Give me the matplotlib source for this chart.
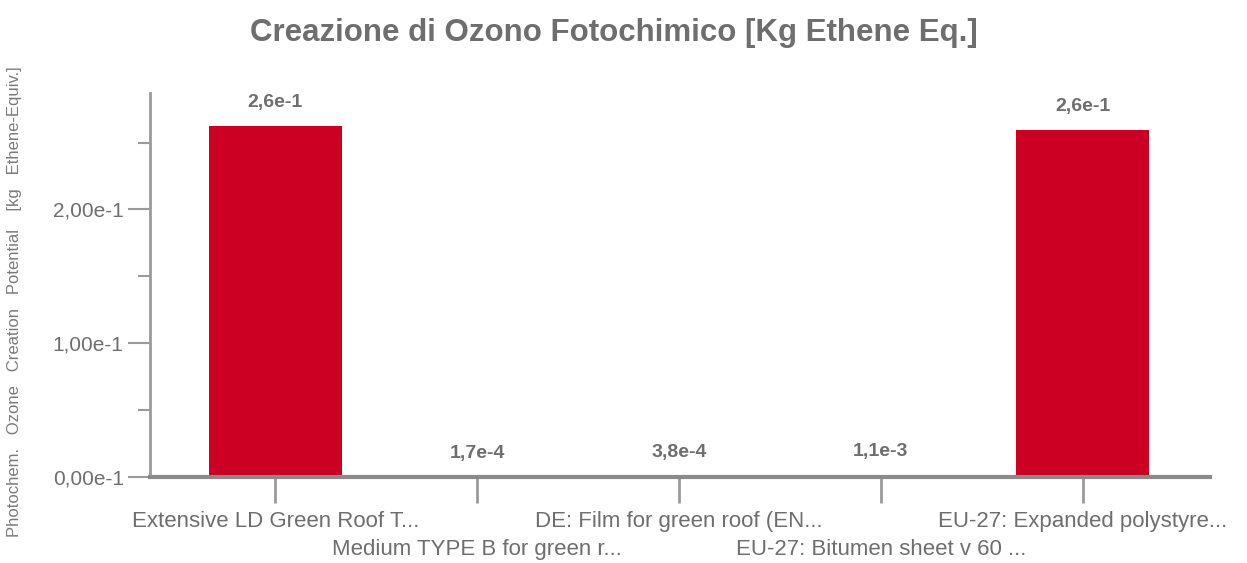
import matplotlib
matplotlib.use("Agg")
import matplotlib.pyplot as plt
from matplotlib.ticker import FixedLocator, FuncFormatter
import numpy as np

# data
categories = ["Extensive LD Green Roof T...", "Medium TYPE B for green r...",
              "DE: Film for green roof (EN...", "EU-27: Bitumen sheet v 60 ...",
              "EU-27: Expanded polystyre..."]
values = [0.262, 1.7e-4, 3.8e-4, 1.1e-3, 0.259]
ytick_vals = [0.0, 0.1, 0.2]
yminor_vals = [0.05, 0.15, 0.25]

title = "Creazione di Ozono Fotochimico [Kg Ethene Eq.]"
ylabel = "Photochem.   Ozone   Creation   Potential    [kg   Ethene-Equiv.]"

plt.rcParams['font.family'] = ['Liberation Sans', 'DejaVu Sans']

red = "#cc0022"
grey_txt = "#6e6e6e"
axis_col = "#9a9a9a"


def sci_comma(v, digits):
    # format like 2,6e-1 (comma decimal, no padded exponent)
    exp = int(np.floor(np.log10(abs(v))))
    mant = v / 10 ** exp
    s = f"{mant:.{digits}f}".replace(".", ",")
    return f"{s}e{exp}"


def ytick_fmt(v, pos):
    # axis ticks all shown in e-1 units
    return f"{v * 10:.2f}".replace(".", ",") + "e-1"


fig = plt.figure(figsize=(12.47, 5.63), dpi=100)
ax = fig.add_axes([0.1203, 0.1527, 0.8500, 0.6821])

x = np.arange(len(categories))
ax.bar(x, values, width=0.66, color=red, zorder=2)

for xi, v in zip(x, values):
    ax.annotate(sci_comma(v, 1), (xi, v), xytext=(0, 11), textcoords="offset points",
                ha="center", va="bottom", fontsize=14, fontweight="bold", color=grey_txt)

ax.set_xlim(-0.62, 4.63)
ax.set_ylim(0, 0.287)

ax.yaxis.set_major_locator(FixedLocator(ytick_vals))
ax.yaxis.set_minor_locator(FixedLocator(yminor_vals))
ax.yaxis.set_major_formatter(FuncFormatter(ytick_fmt))
ax.tick_params(axis="y", which="major", length=16, width=1.5, color=axis_col,
               labelsize=15, labelcolor=grey_txt, pad=3)
ax.tick_params(axis="y", which="minor", length=9, width=1.5, color=axis_col)

ax.set_xticks(x)
ax.set_xticklabels([])
ax.tick_params(axis="x", length=19, width=2, color=axis_col)
for xi, lab in zip(x, categories):
    yoff = -0.117 if xi % 2 == 0 else -0.1875
    ax.text(xi, yoff, lab, transform=ax.get_xaxis_transform(),
            ha="center", va="center", fontsize=16, color=grey_txt)

for side in ["top", "right"]:
    ax.spines[side].set_visible(False)
ax.spines["left"].set_color(axis_col)
ax.spines["left"].set_linewidth(2)
ax.spines["bottom"].set_color("#8a8a8a")
ax.spines["bottom"].set_linewidth(3)

fig.text(0.492, 0.941, title, ha="center", va="center", fontsize=22.5,
         fontweight="bold", color=grey_txt)
fig.text(0.012, 0.465, ylabel, rotation=90, ha="center", va="center",
         fontsize=12, color="#7a7a7a")

fig.savefig("out.png", dpi=100, facecolor="white")
